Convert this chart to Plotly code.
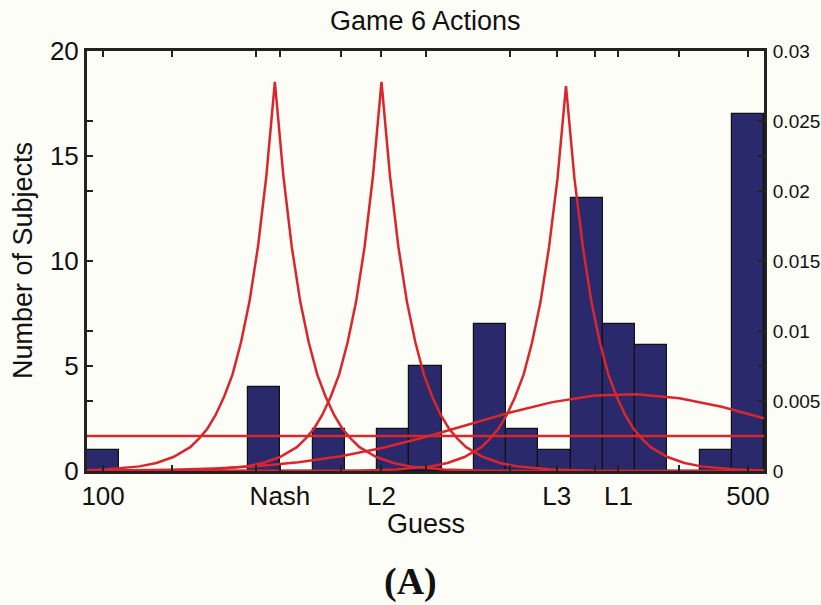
import plotly.graph_objects as go

# ---------------- data ----------------
bin_lo, bin_hi, n_bins = 100, 500, 21
counts = [1, 0, 0, 0, 0, 4, 0, 2, 0, 2, 5, 0, 7, 2, 1, 13, 7, 6, 0, 1, 17]

tick_vals = [109.5, 214, 274, 377.5, 414, 490.5]
tick_text = ["100", "Nash", "L2", "L3", "L1", "500"]
minor_x_ticks = [150, 200, 250, 300, 350, 400, 450]

left_ticks = [0, 5, 10, 15, 20]
right_ticks = [0, 0.005, 0.01, 0.015, 0.02, 0.025, 0.03]
right_text = ["0", "0.005", "0.01", "0.015", "0.02", "0.025", "0.03"]

# model densities (right axis)
nash_x = [100, 111, 131, 141, 151, 161, 166, 171, 176, 181, 186, 191, 196, 201, 206, 211,
          216, 221, 226, 231, 236, 241, 246, 251, 256, 261, 271, 281, 291, 311, 336, 361, 500]
nash_y = [0.00006, 0.00011, 0.00033, 0.00057, 0.0010, 0.0017, 0.0023, 0.0030, 0.0040, 0.0053,
          0.0069, 0.0092, 0.0121, 0.0160, 0.0211, 0.0278,
          0.0211, 0.0160, 0.0121, 0.0092, 0.0069, 0.0053, 0.0040, 0.0030, 0.0023, 0.0017,
          0.0010, 0.00057, 0.00033, 0.00011, 0.00002, 0.000007, 0]

l2_x = [100, 149, 174, 194, 204, 214, 224, 229, 234, 239, 244, 249, 254, 259, 264, 269, 274,
        279, 284, 289, 294, 299, 304, 309, 314, 319, 324, 334, 344, 354, 374, 399, 424, 500]
l2_y = [0, 0.00002, 0.00011, 0.00033, 0.00057, 0.0010, 0.0017, 0.0023, 0.0030, 0.0040,
        0.0053, 0.0069, 0.0092, 0.0121, 0.0160, 0.0211, 0.0278,
        0.0211, 0.0160, 0.0121, 0.0092, 0.0069, 0.0053, 0.0040, 0.0030, 0.0023, 0.0017,
        0.0010, 0.00057, 0.00033, 0.00011, 0.00002, 0.000007, 0]

l3_x = [100, 233, 258, 283, 303, 313, 323, 333, 338, 343, 348, 353, 358, 363, 368, 373, 378, 383,
        388, 393, 398, 403, 408, 413, 418, 423, 428, 433, 443, 453, 463, 483, 500]
l3_y = [0, 0.000007, 0.00002, 0.00011, 0.00033, 0.00057, 0.0010, 0.0017, 0.0023, 0.0030,
        0.0040, 0.0053, 0.0069, 0.0092, 0.0121, 0.0160, 0.0209, 0.0275,
        0.0209, 0.0160, 0.0121, 0.0092, 0.0069, 0.0053, 0.0040, 0.0030, 0.0023, 0.0017,
        0.0010, 0.00057, 0.00033, 0.00011, 0.00004]

uniform_x = [100, 500]
uniform_y = [0.0025, 0.0025]

l1_x = [100, 125, 150, 175, 200, 225, 250, 275, 300, 325, 350, 375, 400, 425, 450, 475, 500]
l1_y = [0.000015, 0.000037, 0.000084, 0.00018, 0.00034, 0.00062, 0.00106, 0.00166, 0.00243,
        0.0033, 0.00418, 0.00492, 0.00539, 0.00549, 0.0052, 0.00459, 0.00376]

# ---------------- style ----------------
BG = "#fdfdf7"
BAR = "#29296b"
RED = "#d9262c"
AX = "#222222"
FONT = "Liberation Sans, Arial, sans-serif"

bin_w = (bin_hi - bin_lo) / n_bins
centers = [bin_lo + bin_w * (k + 0.5) for k in range(n_bins)]

fig = go.Figure()
fig.add_trace(go.Bar(x=centers, y=counts, width=[bin_w] * n_bins,
                     marker=dict(color=BAR, line=dict(color="#111111", width=1.2)),
                     xaxis="x", yaxis="y", showlegend=False, hoverinfo="skip"))

for xs, ys in [(nash_x, nash_y), (l2_x, l2_y), (l3_x, l3_y), (uniform_x, uniform_y), (l1_x, l1_y)]:
    fig.add_trace(go.Scatter(x=xs, y=ys, mode="lines", line=dict(color=RED, width=2.5),
                             xaxis="x2", yaxis="y2", showlegend=False, hoverinfo="skip"))

common = dict(showgrid=False, zeroline=False, ticks="inside", ticklen=6, tickwidth=1.5,
              tickcolor=AX, showline=True, linecolor=AX, linewidth=3, mirror="ticks",
              automargin=False)

fig.update_layout(
    width=821, height=605,
    margin=dict(l=87, r=57, t=51, b=134),
    paper_bgcolor=BG, plot_bgcolor=BG,
    font=dict(family=FONT, color="#111111"),
    bargap=0,
    xaxis=dict(range=[bin_lo, bin_hi], tickvals=tick_vals, ticktext=tick_text,
               tickfont=dict(size=26), ticklabelstandoff=0, **common),
    xaxis2=dict(range=[bin_lo, bin_hi], overlaying="x", side="bottom", tickvals=minor_x_ticks,
                showticklabels=False, **common),
    yaxis=dict(range=[0, 20], tickvals=left_ticks, tickfont=dict(size=26), **common),
    yaxis2=dict(range=[0, 0.03], overlaying="y", side="right", tickvals=right_ticks,
                ticktext=right_text, tickfont=dict(size=19), ticklabelstandoff=2, **common),
    annotations=[
        dict(text="Game 6 Actions", xref="paper", yref="paper", x=0.5, y=1, yshift=30,
             showarrow=False, font=dict(size=27, family=FONT), xanchor="center", yanchor="middle"),
        dict(text="Guess", xref="paper", yref="paper", x=0.5, y=0, yshift=-53,
             showarrow=False, font=dict(size=27, family=FONT), xanchor="center", yanchor="middle"),
        dict(text="Number of Subjects", xref="paper", yref="paper", x=0, y=0.5, xshift=-64,
             textangle=-90, showarrow=False, font=dict(size=27, family=FONT),
             xanchor="center", yanchor="middle"),
        dict(text="<b>(A)</b>", xref="paper", yref="paper", x=0.5, y=0, xshift=-15, yshift=-110,
             showarrow=False, font=dict(size=38, family="Liberation Serif, Times New Roman, serif"),
             xanchor="center", yanchor="middle"),
    ],
)

fig.write_html("out.html")
